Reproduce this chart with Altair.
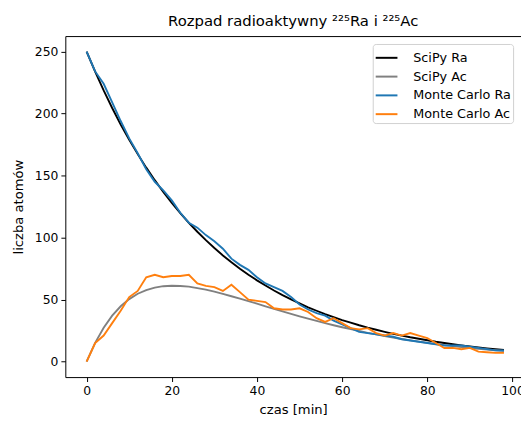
import altair as alt
import pandas as pd

# time [min]
t = list(range(0, 100, 2))

scipy_ra = [250, 233.8, 218.7, 204.5, 191.2, 178.8, 167.3, 156.4, 146.3, 136.8,
            128.0, 119.7, 111.9, 104.7, 97.9, 91.6, 85.6, 80.1, 74.9, 70.0,
            65.5, 61.3, 57.3, 53.6, 50.1, 46.9, 43.8, 41.0, 38.3, 35.9,
            33.5, 31.4, 29.3, 27.4, 25.7, 24.0, 22.4, 21.0, 19.6, 18.4,
            17.2, 16.0, 15.0, 14.0, 13.1, 12.3, 11.5, 10.7, 10.0, 9.4]

scipy_ac = [0, 15.1, 27.3, 37.0, 44.6, 50.4, 54.7, 57.7, 59.7, 60.8,
            61.2, 61.0, 60.4, 59.3, 58.0, 56.4, 54.6, 52.7, 50.8, 48.7,
            46.7, 44.6, 42.5, 40.5, 38.5, 36.5, 34.6, 32.8, 31.0, 29.3,
            27.7, 26.2, 24.7, 23.2, 21.9, 20.6, 19.4, 18.2, 17.1, 16.1,
            15.1, 14.2, 13.3, 12.5, 11.7, 11.0, 10.3, 9.7, 9.1, 8.5]

mc_ra = [250, 234, 224, 209, 194, 180, 168, 155, 145, 138,
         130, 120, 112, 108, 102, 97, 91, 83, 78, 74,
         68, 63, 60, 57, 52, 46, 42, 39, 37, 33,
         30, 27, 24, 23, 22, 21, 20, 18, 17, 16,
         15, 14, 13, 13, 13, 12, 11, 10, 9, 9]

mc_ac = [0, 15, 21, 31, 41, 52, 57, 68, 70, 68,
         69, 69, 70, 63, 61, 60, 57, 62, 56, 50,
         49, 48, 43, 42, 42, 43, 40, 35, 32, 35,
         31, 27, 26, 27, 23, 21, 23, 21, 23, 21,
         19, 15, 11, 11, 10, 11, 8, 7.5, 7, 7]

names = ["SciPy Ra", "SciPy Ac", "Monte Carlo Ra", "Monte Carlo Ac"]
colors = ["#000000", "#808080", "#1f77b4", "#ff7f0e"]
series = [scipy_ra, scipy_ac, mc_ra, mc_ac]

rows = []
for name, vals in zip(names, series):
    for tt, v in zip(t, vals):
        rows.append({"t": tt, "n": v, "s": name})
df = pd.DataFrame(rows)

xscale = alt.Scale(domain=[-5.0, 102.0], nice=False, zero=False)
yscale = alt.Scale(domain=[-12.5, 262.5], nice=False, zero=False)
cscale = alt.Scale(domain=names, range=colors)

lines = alt.Chart(df).mark_line(strokeWidth=1.9).encode(
    x=alt.X("t:Q", scale=xscale,
            axis=alt.Axis(values=[0, 20, 40, 60, 80, 100], title="czas [min]",
                          grid=False, titlePadding=6)),
    y=alt.Y("n:Q", scale=yscale,
            axis=alt.Axis(values=[0, 50, 100, 150, 200, 250], title="liczba atomów",
                          grid=False, titlePadding=9)),
    color=alt.Color("s:N", scale=cscale, sort=names,
                    legend=alt.Legend(title=None, orient="none", legendX=311, legendY=8,
                                      symbolType="stroke", symbolSize=484,
                                      symbolStrokeWidth=2, labelFontSize=12.9,
                                      labelFont="DejaVu Sans", labelColor="black",
                                      labelOffset=15, rowPadding=-2.5, padding=2,
                                      fillColor="white", strokeColor="#d0d0d0",
                                      cornerRadius=3)),
)

topframe = alt.Chart(df).mark_line(strokeOpacity=0).encode(
    x=alt.X("t:Q", scale=xscale,
            axis=alt.Axis(orient="top", labels=False, ticks=False, title=None,
                          grid=False, domain=True)),
    y=alt.Y("n:Q", scale=yscale, axis=None),
    detail="s:N",
)

chart = alt.layer(lines, topframe).resolve_axis(x="independent", y="independent").properties(
    width=461, height=345,
    title=alt.Title("Rozpad radioaktywny ²²⁵Ra i ²²⁵Ac", fontSize=15,
                    font="DejaVu Sans", fontWeight="normal", color="black",
                    anchor="middle", offset=7),
    autosize=alt.AutoSizeParams(type="none"),
    padding={"left": 58, "top": 26, "right": 0, "bottom": 40},
).configure_view(stroke=None).configure_axis(
    labelFont="DejaVu Sans", labelFontSize=12.5, labelColor="black",
    titleFont="DejaVu Sans", titleFontSize=13.3, titleFontWeight="normal",
    titleColor="black", tickColor="black", domainColor="black",
    tickSize=4.5, labelPadding=3, domainWidth=1, tickWidth=1,
)

chart.save("out.html", embed_options={"renderer": "svg", "actions": False})
